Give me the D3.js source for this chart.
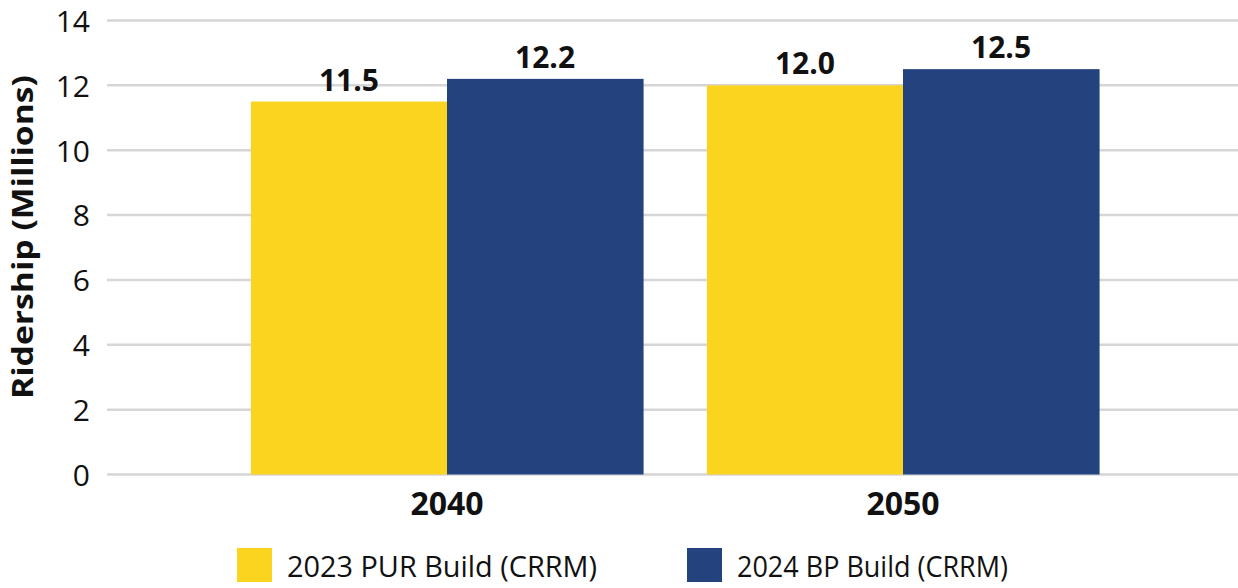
<!DOCTYPE html>
<html>
<head>
<meta charset="utf-8">
<script src="https://cdn.jsdelivr.net/npm/d3@7"></script>
<style>
  body { margin: 0; background: #fff; }
  text { font-family: "Open Sans", "Noto Sans", sans-serif; fill: #111; }
</style>
</head>
<body>
<div id="chart"></div>
<script>
// data
var years = ["2040", "2050"];
var seriesNames = ["2023 PUR Build (CRRM)", "2024 BP Build (CRRM)"];
var pur2023 = [11.5, 12.0];
var bp2024 = [12.2, 12.5];
var yTicks = [0, 2, 4, 6, 8, 10, 12, 14];
var colors = ["#fad41e", "#24427e"];

var width = 1238, height = 588;

var svg = d3.select("#chart").append("svg")
    .attr("width", width)
    .attr("height", height);

//scales
var x = d3.scaleBand()
    .domain(years)
    .range([219, 1131])
    .paddingInner(0.14)
    .paddingOuter(0.07);

var xSub = d3.scaleBand()
    .domain(seriesNames)
    .range([0, x.bandwidth()]);

var y = d3.scaleLinear()
    .domain([0, 14])
    .range([474.5, 20.5]);

// gridlines
svg.append("g")
  .selectAll("line")
  .data(yTicks)
  .enter().append("line")
    .attr("x1", 107)
    .attr("x2", width)
    .attr("y1", d => y(d))
    .attr("y2", d => y(d))
    .attr("stroke", "#d6d6d6")
    .attr("stroke-width", 2.5);

// y axis labels
var yAxis = svg.append("g")
    .attr("transform", "translate(90,0)")
    .call(d3.axisLeft(y).tickValues(yTicks).tickSize(0).tickPadding(0));
yAxis.select(".domain").remove();
yAxis.selectAll("text")
    .style("font-size", "30px")
    .style("font-family", "'Open Sans', sans-serif")
    .attr("fill", "#111")
    .attr("dy", "0.36em");

svg.append("text")
    .attr("transform", "translate(33,237) rotate(-90)")
    .attr("text-anchor", "middle")
    .attr("textLength", 324)
    .attr("lengthAdjust", "spacingAndGlyphs")
    .style("font-size", "28px")
    .style("font-weight", "bold")
    .text("Ridership (Millions)");

// bars
var rows = years.map((yr, i) => ({
  year: yr,
  values: [
    {name: seriesNames[0], value: pur2023[i], color: colors[0]},
    {name: seriesNames[1], value: bp2024[i], color: colors[1]}
  ]
}));

var groups = svg.selectAll(".grp")
    .data(rows)
    .enter().append("g")
    .attr("class", "grp")
    .attr("transform", d => "translate(" + x(d.year) + ",0)");

groups.selectAll("rect")
    .data(d => d.values)
    .enter().append("rect")
    .attr("x", d => xSub(d.name))
    .attr("width", xSub.bandwidth() + 0.5)
    .attr("y", d => y(d.value))
    .attr("height", d => y(0) - y(d.value))
    .attr("fill", d => d.color);

groups.selectAll(".lbl")
    .data(d => d.values)
    .enter().append("text")
    .attr("class", "lbl")
    .attr("x", d => xSub(d.name) + xSub.bandwidth() / 2)
    .attr("y", d => y(d.value) - 11)
    .attr("text-anchor", "middle")
    .style("font-size", "30px")
    .style("font-weight", "bold")
    .text(d => d.value.toFixed(1));

// x axis labels
var xAxis = svg.append("g")
    .attr("transform", "translate(0," + y(0) + ")")
    .call(d3.axisBottom(x).tickSize(0).tickPadding(0));
xAxis.select(".domain").remove();
xAxis.selectAll("text")
    .style("font-size", "32px")
    .style("font-weight", "bold")
    .style("font-family", "'Open Sans', sans-serif")
    .attr("fill", "#111")
    .attr("dy", "1.25em");

// legend
var legendX = [237, 687];
var legend = svg.selectAll(".leg")
    .data(seriesNames)
    .enter().append("g")
    .attr("class", "leg")
    .attr("transform", (d, i) => "translate(" + legendX[i] + ",548)");

legend.append("rect")
    .attr("width", 35)
    .attr("height", 34)
    .attr("fill", (d, i) => colors[i]);

legend.append("text")
    .attr("x", 50)
    .attr("y", 29)
    .attr("textLength", (d, i) => i == 0 ? 310 : 271)
    .attr("lengthAdjust", "spacingAndGlyphs")
    .style("font-size", "29px")
    .text(d => d);
</script>
</body>
</html>
